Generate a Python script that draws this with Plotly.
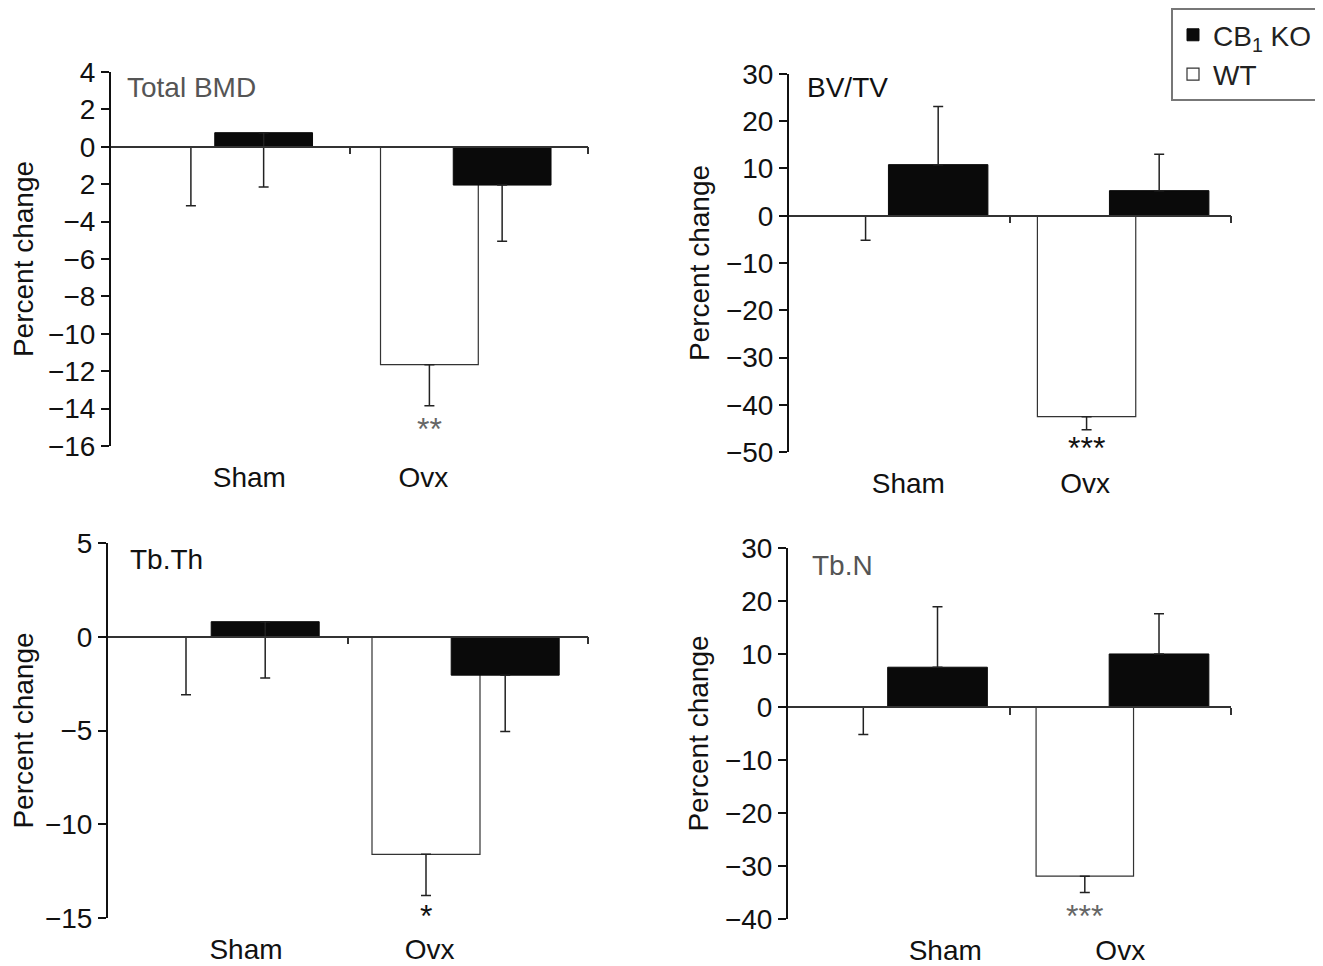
import numpy as np
import plotly.graph_objects as go

# ---------------- data ----------------
categories = ["Sham", "Ovx"]
series_names = ["WT", "CB<sub>1</sub> KO"]

# Total BMD
bmd_wt = [0.0, -11.65]
bmd_wt_err_minus = [3.15, 2.2]
bmd_ko = [0.75, -2.05]
bmd_ko_err_minus = [2.9, 3.0]

# BV/TV
bvtv_wt = [0.0, -42.5]
bvtv_wt_err_minus = [5.2, 2.8]
bvtv_ko = [10.8, 5.3]
bvtv_ko_err_plus = [12.3, 7.7]

# Tb.Th
tbth_wt = [0.0, -11.6]
tbth_wt_err_minus = [3.1, 2.2]
tbth_ko = [0.8, -2.05]
tbth_ko_err_minus = [3.0, 3.0]

# Tb.N
tbn_wt = [0.0, -31.9]
tbn_wt_err_minus = [5.2, 3.1]
tbn_ko = [7.5, 10.0]
tbn_ko_err_plus = [11.4, 7.6]

# y tick labels
bmd_ticks = [4, 2, 0, -2, -4, -6, -8, -10, -12, -14, -16]
bmd_ticktext = ["4", "2", "0", "2", "\u22124", "\u22126", "\u22128", "\u221210", "\u221212", "\u221214", "\u221216"]
bvtv_ticks = [30, 20, 10, 0, -10, -20, -30, -40, -50]
tbth_ticks = [5, 0, -5, -10, -15]
tbn_ticks = [30, 20, 10, 0, -10, -20, -30, -40]

# significance marks (on Ovx WT bar)
bmd_sig, bmd_sig_y = "**", -15.1
bvtv_sig, bvtv_sig_y = "***", -49.2
tbth_sig, tbth_sig_y = "*", -14.9
tbn_sig, tbn_sig_y = "***", -39.4

# ---------------- style ----------------
FONT = "Liberation Sans, Arial, sans-serif"
FS = 28
xpos = np.arange(len(categories))
W, H, OFFX, OFFY = 1323, 966, 5, 6


def dom_x(a, b):
    return [(a - OFFX) / W, (b - OFFX) / W]


def dom_y(top, bottom):
    return [1 - (bottom - OFFY) / H, 1 - (top - OFFY) / H]


def zeros(n):
    return [0.0] * n


panels = [
    dict(name="Total BMD", title_color="#555555",
         wt=bmd_wt, wt_p=zeros(2), wt_m=bmd_wt_err_minus,
         ko=bmd_ko, ko_p=zeros(2), ko_m=bmd_ko_err_minus,
         yrange=[-16, 4], tickvals=bmd_ticks, ticktext=bmd_ticktext,
         sig=bmd_sig, sig_y=bmd_sig_y, sig_color="#666666",
         xdom=dom_x(108, 585), ydom=dom_y(68, 443),
         bars=(-0.37, 0.41, -0.065, 0.41), label_shift=[0.08, -0.19],
         title_pos=(0.03, 0.957)),
    dict(name="BV/TV", title_color="#111111",
         wt=bvtv_wt, wt_p=zeros(2), wt_m=bvtv_wt_err_minus,
         ko=bvtv_ko, ko_p=bvtv_ko_err_plus, ko_m=zeros(2),
         yrange=[-50, 30], tickvals=bvtv_ticks, ticktext=None,
         sig=bvtv_sig, sig_y=bvtv_sig_y, sig_color="#111111",
         xdom=dom_x(786, 1228), ydom=dom_y(70, 449),
         bars=(-0.376, 0.445, -0.05, 0.45), label_shift=[0.04, -0.16],
         title_pos=(0.036, 0.963)),
    dict(name="Tb.Th", title_color="#111111",
         wt=tbth_wt, wt_p=zeros(2), wt_m=tbth_wt_err_minus,
         ko=tbth_ko, ko_p=zeros(2), ko_m=tbth_ko_err_minus,
         yrange=[-15, 5], tickvals=tbth_ticks, ticktext=None,
         sig=tbth_sig, sig_y=tbth_sig_y, sig_color="#111111",
         xdom=dom_x(105, 585), ydom=dom_y(540, 916),
         bars=(-0.40, 0.45, -0.07, 0.45), label_shift=[0.075, -0.16],
         title_pos=(0.042, 0.955)),
    dict(name="Tb.N", title_color="#555555",
         wt=tbn_wt, wt_p=zeros(2), wt_m=tbn_wt_err_minus,
         ko=tbn_ko, ko_p=tbn_ko_err_plus, ko_m=zeros(2),
         yrange=[-40, 30], tickvals=tbn_ticks, ticktext=None,
         sig=tbn_sig, sig_y=tbn_sig_y, sig_color="#666666",
         xdom=dom_x(785, 1228), ydom=dom_y(545, 917),
         bars=(-0.38, 0.44, -0.05, 0.45), label_shift=[0.21, 0.0],
         title_pos=(0.05, 0.952)),
]

fig = go.Figure()
layout = dict(
    width=W, height=H,
    margin=dict(l=0, r=0, t=0, b=0),
    paper_bgcolor="white", plot_bgcolor="rgba(0,0,0,0)",
    barmode="overlay",
    font=dict(family=FONT, size=FS, color="#111111"),
    showlegend=True,
    legend=dict(x=(1168 - OFFX) / W, y=1.002, xanchor="left", yanchor="top",
                bordercolor="#777777", borderwidth=2, bgcolor="white",
                traceorder="reversed", font=dict(size=FS, family=FONT, color="#222222"),
                tracegroupgap=0),
    annotations=[],
)

for i, p in enumerate(panels):
    n = i + 1
    xa = "x" if n == 1 else f"x{n}"
    ya = "y" if n == 1 else f"y{n}"
    xkey = "xaxis" if n == 1 else f"xaxis{n}"
    ykey = "yaxis" if n == 1 else f"yaxis{n}"
    wt_off, wt_w, ko_off, ko_w = p["bars"]
    err_style = dict(type="data", symmetric=False, color="#222222", thickness=1.5, width=5)

    fig.add_trace(go.Bar(
        x=xpos, y=p["wt"], xaxis=xa, yaxis=ya, name=series_names[0],
        offset=wt_off, width=wt_w,
        marker=dict(color="white", line=dict(color="#333333", width=1.2)),
        error_y=dict(array=p["wt_p"], arrayminus=p["wt_m"], **err_style),
        showlegend=(n == 1), legendgroup="wt",
    ))
    fig.add_trace(go.Bar(
        x=xpos, y=p["ko"], xaxis=xa, yaxis=ya, name=series_names[1],
        offset=ko_off, width=ko_w,
        marker=dict(color="#0a0a0a", line=dict(color="#0a0a0a", width=1)),
        error_y=dict(array=p["ko_p"], arrayminus=p["ko_m"], **err_style),
        showlegend=(n == 1), legendgroup="ko",
    ))

    layout[xkey] = dict(
        domain=p["xdom"], anchor=ya, range=[-0.5, len(categories) - 0.5],
        showline=False, zeroline=False, showgrid=False,
        tickvals=list(xpos + np.array(p["label_shift"])), ticktext=categories,
        ticks="", ticklabelstandoff=12, fixedrange=True,
        tickfont=dict(size=FS, family=FONT, color="#111111"),
    )
    ymin, ymax = p["yrange"]
    yax = dict(
        domain=p["ydom"], anchor=xa, range=p["yrange"],
        showline=True, linecolor="#111111", linewidth=2,
        ticks="outside", ticklen=8, tickwidth=2, tickcolor="#111111",
        tickvals=p["tickvals"], zeroline=False, showgrid=False,
        title=dict(text="Percent change", standoff=8, font=dict(size=FS, family=FONT)),
        tickfont=dict(size=FS, family=FONT, color="#111111"),
        automargin=False, fixedrange=True,
    )
    if p["ticktext"] is not None:
        yax["ticktext"] = p["ticktext"]
    layout[ykey] = yax

    # axis drawn at y = 0 with boundary ticks
    zkey = f"xaxis{n + 4}"
    zero_pos = p["ydom"][0] + (0 - ymin) / (ymax - ymin) * (p["ydom"][1] - p["ydom"][0])
    layout[zkey] = dict(
        domain=p["xdom"], overlaying=xa, anchor="free", position=zero_pos,
        range=[-0.5, len(categories) - 0.5],
        showline=True, linecolor="#333333", linewidth=1.5,
        ticks="outside", ticklen=7, tickwidth=1.5, tickcolor="#333333",
        tickvals=[0.5, 1.5], showticklabels=False, showgrid=False, zeroline=False,
        fixedrange=True, side="bottom",
    )
    fig.add_trace(go.Scatter(x=xpos, y=[0, 0], xaxis=f"x{n + 4}", yaxis=ya,
                             mode="markers", marker=dict(opacity=0),
                             showlegend=False, hoverinfo="skip"))

    layout["annotations"].append(dict(
        text=p["name"], xref=f"{xa} domain", yref=f"{ya} domain",
        x=p["title_pos"][0], y=p["title_pos"][1], xanchor="left", yanchor="middle",
        showarrow=False, font=dict(size=FS, family=FONT, color=p["title_color"]),
    ))
    layout["annotations"].append(dict(
        text=p["sig"], xref=xa, yref=ya,
        x=float(xpos[1] + wt_off + wt_w / 2), y=p["sig_y"],
        xanchor="center", yanchor="middle", showarrow=False,
        font=dict(size=32, family=FONT, color=p["sig_color"]),
    ))

fig.update_layout(**layout)
fig.write_html("out.html")
